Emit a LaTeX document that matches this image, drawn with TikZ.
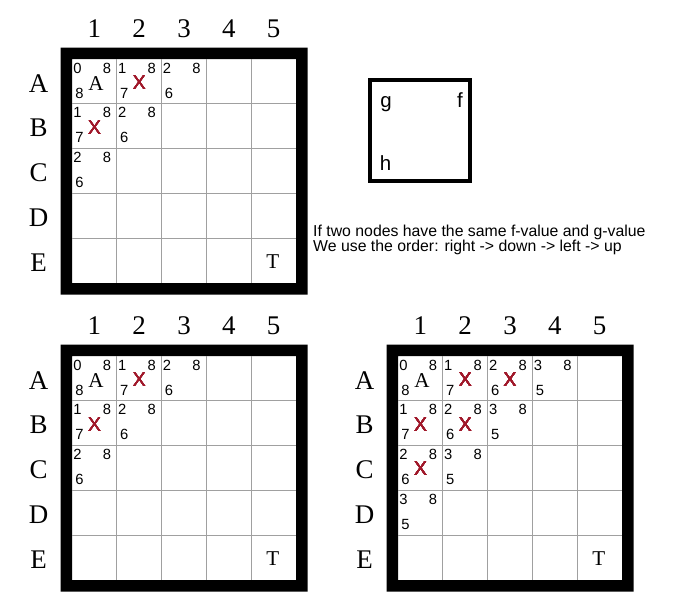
\documentclass[tikz,border=0pt]{standalone}
\usepackage{fontspec}
\setmainfont{Liberation Serif}
\newfontfamily\cellfont{Liberation Sans}
\usetikzlibrary{positioning}
\definecolor{ink}{HTML}{000000}
\definecolor{rulegray}{HTML}{A0A0A0}
\definecolor{crossred}{HTML}{A0182A}
\newcommand{\cellsz}{44.8}
\tikzset{
  axislabel/.style={inner sep=0pt,font=\fontsize{23}{23}\selectfont},
  gvalue/.style={inner sep=0pt,font=\cellfont\fontsize{12.6}{12.6}\selectfont},
  startmark/.style={inner sep=0pt,font=\fontsize{18}{18}\selectfont},
  goalmark/.style={inner sep=0pt,font=\fontsize{18}{18}\selectfont},
  closedmark/.style={inner sep=0pt,text=crossred,font=\cellfont\fontsize{17}{17}\selectfont},
  gridrule/.style={draw=rulegray,line width=0.8pt},
  keyframe/.style={draw=ink,line width=2.8pt},
  keyletter/.style={inner sep=0pt,anchor=base,font=\cellfont\fontsize{17.5}{17.5}\selectfont},
  rulenote/.style={inner sep=0pt,align=left,font=\cellfont\fontsize{13.5}{12.6}\selectfont}
}
% g (top left), f (top right), h (bottom left) of one cell
\newcommand{\scorecell}[6]{%
  \node[gvalue] (#1-#2#3-g) at ({(#3-1)*\cellsz+5.5},{(#2-1)*\cellsz+9}) {#4};
  \node[gvalue] (#1-#2#3-f) at ({(#3-1)*\cellsz+35},{(#2-1)*\cellsz+9}) {#5};
  \node[gvalue] (#1-#2#3-h) at ({(#3-1)*\cellsz+7.5},{(#2-1)*\cellsz+34}) {#6};
}

\begin{document}
\begin{tikzpicture}[x=0.03cm,y=-0.03cm]
  \useasboundingbox (0,0) rectangle (676,612);
  % the three boards
  \foreach \bd/\bx/\by in {top/72/59,left/72/356,right/398/356} {
    \begin{scope}[shift={(\bx,\by)}]
      \fill[ink,even odd rule] (-11.5,-11.5) rectangle (235.5,235.5)
        (0,0) rectangle (224,224);
      \foreach \k in {1,...,4} {
        \draw[gridrule] ({\k*\cellsz},0) -- ({\k*\cellsz},224);
        \draw[gridrule] (0,{\k*\cellsz}) -- (224,{\k*\cellsz});
      }
      \foreach \r/\lab in {1/A,2/B,3/C,4/D,5/E}
        \node[axislabel] (\bd-row\lab) at (-33.5,{(\r-0.5)*\cellsz+2}) {\lab};
      \foreach \c in {1,...,5}
        \node[axislabel] (\bd-col\c) at ({(\c-0.5)*\cellsz},-30) {\c};
      \node[startmark] (\bd-start) at (24,24.5) {A};
      \node[goalmark] (\bd-goal) at ({4*\cellsz+21.5},{4*\cellsz+23}) {T};
    \end{scope}
  }
  % first expansions
  \foreach \bd/\bx/\by in {top/72/59,left/72/356} {
    \begin{scope}[shift={(\bx,\by)}]
      \foreach \r/\c/\g/\f/\h in {1/1/0/8/8,1/2/1/8/7,1/3/2/8/6,2/1/1/8/7,2/2/2/8/6,3/1/2/8/6}
        \scorecell{\bd}{\r}{\c}{\g}{\f}{\h}
      \foreach \r/\c in {1/2,2/1}
        \node[closedmark] (\bd-\r\c-x) at ({(\c-0.5)*\cellsz},{(\r-1)*\cellsz+23.5}) {X};
    \end{scope}
  }
  % later expansions
  \begin{scope}[shift={(398,356)}]
    \foreach \r/\c/\g/\f/\h in {1/1/0/8/8,1/2/1/8/7,1/3/2/8/6,1/4/3/8/5,2/1/1/8/7,
        2/2/2/8/6,2/3/3/8/5,3/1/2/8/6,3/2/3/8/5,4/1/3/8/5}
      \scorecell{right}{\r}{\c}{\g}{\f}{\h}
    \foreach \r/\c in {1/2,1/3,2/1,2/2,3/1}
      \node[closedmark] (right-\r\c-x) at ({(\c-0.5)*\cellsz},{(\r-1)*\cellsz+23.5}) {X};
  \end{scope}
  % key
  \draw[keyframe] (370,80) rectangle (470,181);
  \node[keyletter] (key-g) at (386,107.5) {g};
  \node[keyletter] (key-f) at (460,107.5) {f};
  \node[keyletter] (key-h) at (385.5,170) {h};
  \node[rulenote,anchor=base west] (tie-rule) at (313,251)
    {If two nodes have the same f-value and g-value\\We use the order: right -> down -> left -> up};
\end{tikzpicture}
\end{document}
